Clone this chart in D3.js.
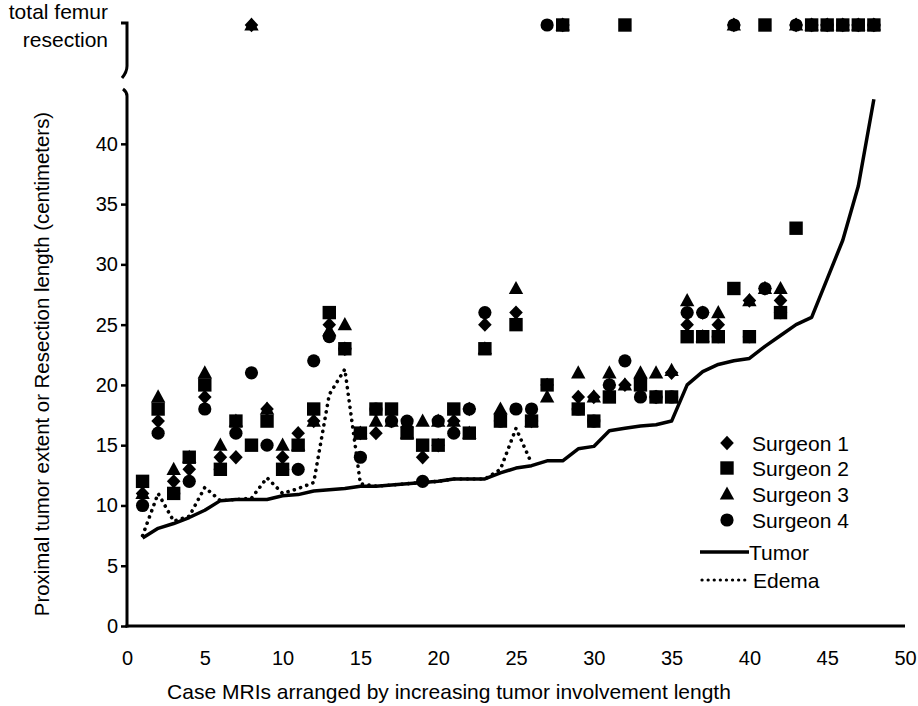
<!DOCTYPE html>
<html><head><meta charset="utf-8">
<script src="https://cdn.jsdelivr.net/npm/d3@7"></script>
<style>
body{margin:0;background:#fff}
text{font-family:"Liberation Sans",Arial,sans-serif;fill:#000}
</style>
</head><body>
<svg id="c" width="918" height="706"></svg>
<script>
const TF = "TF"; // total femur resection
const cases = [1,2,3,4,5,6,7,8,9,10,11,12,13,14,15,16,17,18,19,20,21,22,23,24,25,26,27,28,29,30,31,32,33,34,35,36,37,38,39,40,41,42,43,44,45,46,47,48];
const surgeon1 = [11,17,12,13,19,14,14,TF,18,14,16,17,25,23,16,16,17,16.5,14,15,17,18,25,17.6,26,17,20,TF,19,19,20,20,20.5,19,21,25,26,25,TF,27,28,27,TF,TF,TF,TF,TF,TF];
const surgeon2 = [12,18,11,14,20,13,17,15,17,13,15,18,26,23,16,18,18,16,15,15,18,16,23,17,25,17,20,TF,18,17,19,TF,20,19,19,24,24,24,28,24,TF,26,33,TF,TF,TF,TF,TF];
const surgeon3 = [11,19,13,14,21,15,17,TF,18,15,15,17,24.5,25,16,17,17,16,17,17,17,16,23,18,28,17,19,TF,21,19,21,20,21,21,21.2,27,24,26,TF,27,28,28,TF,TF,TF,TF,TF,TF];
const surgeon4 = [10,16,11,12,18,13,16,21,15,13,13,22,24,23,14,18,17,17,12,17,16,18,26,17,18,18,TF,TF,18,17,20,22,19,19,19,26,26,24,TF,24,28,26,TF,TF,TF,TF,TF,TF];
const tumor = [7.3,8.1,8.5,9.0,9.6,10.4,10.5,10.5,10.5,10.8,10.9,11.2,11.3,11.4,11.6,11.6,11.7,11.8,11.9,12.0,12.2,12.2,12.2,12.7,13.1,13.3,13.7,13.7,14.7,14.9,16.2,16.4,16.6,16.7,17.0,20.0,21.1,21.7,22.0,22.2,23.2,24.1,25.0,25.6,28.8,32.0,36.5,43.7];
const edemaCases = [1,2,3,4,5,6,7,8,9,10,11,12,13,14,15,16,17,18,19,20,21,22,23,24,25,26];
const edema = [7.5,11.0,8.7,9.1,11.5,10.4,10.5,10.6,12.3,11.0,11.4,11.9,19.2,21.3,11.8,11.6,11.7,11.8,11.9,12.0,12.2,12.2,12.2,13.0,16.4,13.5];
const xTicks = [0,5,10,15,20,25,30,35,40,45,50];
const yTicks = [0,5,10,15,20,25,30,35,40];
const seriesNames = ["Surgeon 1","Surgeon 2","Surgeon 3","Surgeon 4"];

const svg = d3.select("#c");
const x = d3.scaleLinear().domain([0,50]).range([127,905]);
const y = d3.scaleLinear().domain([0,44.3]).range([626,92]);
const yTF = 25;
const yv = v => v === TF ? yTF : y(v);

// marker shapes
const shapes = [
  {draw(c, s){ const h=7.2, w=6.8; c.moveTo(0,-h); c.lineTo(w,0); c.lineTo(0,h); c.lineTo(-w,0); c.closePath(); }},
  {draw(c, s){ const h=6.7; c.rect(-h,-h,2*h,2*h); }},
  {draw(c, s){ const w=7.2, t=7.6, b=5.6; c.moveTo(0,-t); c.lineTo(w,b); c.lineTo(-w,b); c.closePath(); }},
  {draw(c, s){ const r=6.6; c.moveTo(r,0); c.arc(0,0,r,0,2*Math.PI); }}
];
const sym = i => d3.symbol().type(shapes[i])();

// axes
const yAxis = d3.axisLeft(y).tickValues(yTicks).tickSize(6).tickSizeOuter(0).tickPadding(3);
const gy = svg.append("g").attr("transform","translate(127,0)").call(yAxis);
gy.select(".domain").attr("stroke","#000").attr("stroke-width",3).attr("d","M0,627.5V96 q0,-4 -4,-7");
gy.selectAll(".tick line").attr("stroke","#000").attr("stroke-width",2.5);
gy.selectAll(".tick text").attr("font-size",20).attr("font-family","Liberation Sans, Arial, sans-serif").attr("fill","#000");

const xAxis = d3.axisBottom(x).tickValues(xTicks).tickSize(0).tickSizeOuter(0).tickPadding(25);
const gx = svg.append("g").attr("transform","translate(0,626)").call(xAxis);
gx.select(".domain").attr("stroke","#000").attr("stroke-width",3).attr("d","M125.5,0H905");
gx.selectAll(".tick text").attr("font-size",20).attr("font-family","Liberation Sans, Arial, sans-serif").attr("fill","#000");

// upper broken-axis segment (total femur resection level)
svg.append("path").attr("d","M121,23H127V66 q0,6 -5,12").attr("fill","none").attr("stroke","#000").attr("stroke-width",3);
svg.append("text").attr("x",108).attr("y",19).attr("text-anchor","end").attr("font-size",21).text("total femur");
svg.append("text").attr("x",108).attr("y",47).attr("text-anchor","end").attr("font-size",21).text("resection");

// markers
const surgeons = [surgeon1,surgeon2,surgeon3,surgeon4];
surgeons.forEach((vals,i)=>{
  svg.append("g").selectAll("path").data(vals.map((v,j)=>({c:cases[j],v})).filter(d=>d.v!=null))
    .join("path").attr("d",sym(i)).attr("fill","#000")
    .attr("transform",d=>`translate(${x(d.c)},${yv(d.v)})`);
});

// lines
const line = d3.line().x(d=>x(d[0])).y(d=>y(d[1]));
svg.append("path").datum(cases.map((c,i)=>[c,tumor[i]])).attr("d",line)
  .attr("fill","none").attr("stroke","#000").attr("stroke-width",3.5).attr("stroke-linejoin","round");
svg.append("path").datum(edemaCases.map((c,i)=>[c,edema[i]])).attr("d",line)
  .attr("fill","none").attr("stroke","#000").attr("stroke-width",3.6).attr("stroke-linecap","round").attr("stroke-dasharray","0.1,6.5");

// legend
const lg = svg.append("g");
const rows = [443,468,494,520];
seriesNames.forEach((n,i)=>{
  lg.append("path").attr("d",sym(i)).attr("transform",`translate(727,${rows[i]})`).attr("fill","#000");
  lg.append("text").attr("x",752).attr("y",rows[i]+7.5).attr("font-size",21).text(n);
});
lg.append("line").attr("x1",700).attr("x2",749).attr("y1",552).attr("y2",552).attr("stroke","#000").attr("stroke-width",3.5);
lg.append("text").attr("x",749).attr("y",559.5).attr("font-size",21).text("Tumor");
lg.append("line").attr("x1",702).attr("x2",747).attr("y1",580).attr("y2",580).attr("stroke","#000").attr("stroke-width",3.2).attr("stroke-linecap","round").attr("stroke-dasharray","0.1,6");
lg.append("text").attr("x",753).attr("y",587.5).attr("font-size",21).text("Edema");

// axis titles
svg.append("text").attr("transform","translate(49,364) rotate(-90)").attr("text-anchor","middle").attr("font-size",20.4)
  .text("Proximal tumor extent or Resection length (centimeters)");
svg.append("text").attr("x",449).attr("y",699).attr("text-anchor","middle").attr("font-size",21)
  .text("Case MRIs arranged by increasing tumor involvement length");
</script>
</body></html>
